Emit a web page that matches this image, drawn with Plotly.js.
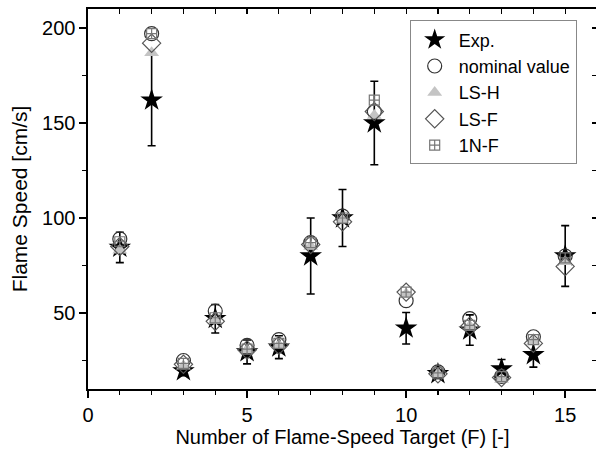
<!DOCTYPE html>
<html>
<head>
<meta charset="utf-8">
<script src="https://cdn.plot.ly/plotly-3.0.1.min.js"></script>
<style>
html,body{margin:0;padding:0;overflow:hidden;background:#fff;}
#chart{width:600px;height:455px;}
</style>
</head>
<body>
<div id="chart"></div>
<script>
// Flame-speed targets
var targets = [1,2,3,4,5,6,7,8,9,10,11,12,13,14,15];
var expValues = [84.5,162,19.5,47,29.5,32,80,100,150,42,18,41,20.5,28,80];
var expErrors = [8,24,2.5,7.5,6.3,6,20,15,22,8.3,2,8,5,6.5,16];
var nominalValues = [89,197,25,51,33,36,87,101,156,56.5,19,47,16.6,37.5,80];
var lshValues = [83,187,22,46,30.5,33,85,99,154,60,18,43,15,35,77];
var lsfValues = [85,192,23,45.6,30.5,33,86,98,156,61,18,43,16,34,74.5];
var n1fValues = [87.5,197,23.5,47.5,31,34,87,100,162,61,18.5,43.5,16.5,36,79];
var seriesNames = ['Exp.','nominal value','LS-H','LS-F','1N-F'];

var font = 'Liberation Sans, Arial, sans-serif';

var traces = [
  {x: targets, y: expValues, name: seriesNames[0], type: 'scatter', mode: 'markers',
   marker: {symbol: 'star', size: 17, color: '#000'},
   error_y: {type: 'data', array: expErrors, visible: true, color: '#000', thickness: 1.6, width: 4}},
  {x: targets, y: nominalValues, name: seriesNames[1], type: 'scatter', mode: 'markers',
   marker: {symbol: 'circle-open', size: 14, color: '#333', line: {width: 1.2}}},
  {x: targets, y: lshValues, name: seriesNames[2], type: 'scatter', mode: 'markers',
   marker: {symbol: 'triangle-up', size: 13, color: '#c4c4c4'}},
  {x: targets, y: lsfValues, name: seriesNames[3], type: 'scatter', mode: 'markers',
   marker: {symbol: 'diamond-open', size: 14, color: '#555', line: {width: 1.2}}},
  {x: targets, y: n1fValues, name: seriesNames[4], type: 'scatter', mode: 'markers',
   marker: {symbol: 'square-cross-open', size: 10, color: '#777', line: {width: 1.2}}},
  {x: [], y: [], xaxis: 'x2', yaxis: 'y2', showlegend: false, hoverinfo: 'skip', type: 'scatter'}
];

var layout = {
  width: 600, height: 455,
  margin: {l: 88, r: 3, t: 9, b: 66},
  paper_bgcolor: '#fff', plot_bgcolor: '#fff',
  font: {family: font, color: '#000'},
  showlegend: true,
  legend: {x: 0.632, y: 0.97, xanchor: 'left', yanchor: 'top',
    bgcolor: '#fff', bordercolor: '#888', borderwidth: 1, itemwidth: 38,
    font: {size: 18, family: font, color: '#000'}, tracegroupgap: 0},
  xaxis: {range: [0, 16], tickvals: [0,5,10,15], ticks: 'outside', ticklen: 7, tickwidth: 1.4,
    tickcolor: '#000', showline: true, linecolor: '#000', linewidth: 1.6, showgrid: false, zeroline: false,
    minor: {dtick: 1, ticks: 'outside', ticklen: 4, tickwidth: 1.2, tickcolor: '#000', showgrid: false},
    tickfont: {size: 20, family: font, color: '#000'},
    title: {text: 'Number of Flame-Speed Target (F) [-]', font: {size: 20, family: font, color: '#000'}, standoff: 5}},
  yaxis: {range: [10, 210], tickvals: [50,100,150,200], ticks: 'outside', ticklen: 7, tickwidth: 1.4,
    tickcolor: '#000', showline: true, linecolor: '#000', linewidth: 1.6, showgrid: false, zeroline: false,
    minor: {dtick: 25, ticks: 'outside', ticklen: 4, tickwidth: 1.2, tickcolor: '#000', showgrid: false},
    tickfont: {size: 20, family: font, color: '#000'},
    title: {text: 'Flame Speed [cm/s]', font: {size: 21, family: font, color: '#000'}, standoff: 8}},
  xaxis2: {overlaying: 'x', side: 'top', range: [0, 16], dtick: 1, tick0: 0, ticks: 'inside', ticklen: 5,
    tickwidth: 1.2, tickcolor: '#000', showline: true, linecolor: '#000', linewidth: 1.6,
    showticklabels: false, showgrid: false, zeroline: false},
  yaxis2: {overlaying: 'y', side: 'right', range: [10, 210], dtick: 25, tick0: 0, ticks: 'inside', ticklen: 5,
    tickwidth: 1.2, tickcolor: '#000', showline: true, linecolor: '#000', linewidth: 1.6,
    showticklabels: false, showgrid: false, zeroline: false}
};

Plotly.newPlot('chart', traces, layout, {displayModeBar: false, staticPlot: true});
</script>
</body>
</html>
